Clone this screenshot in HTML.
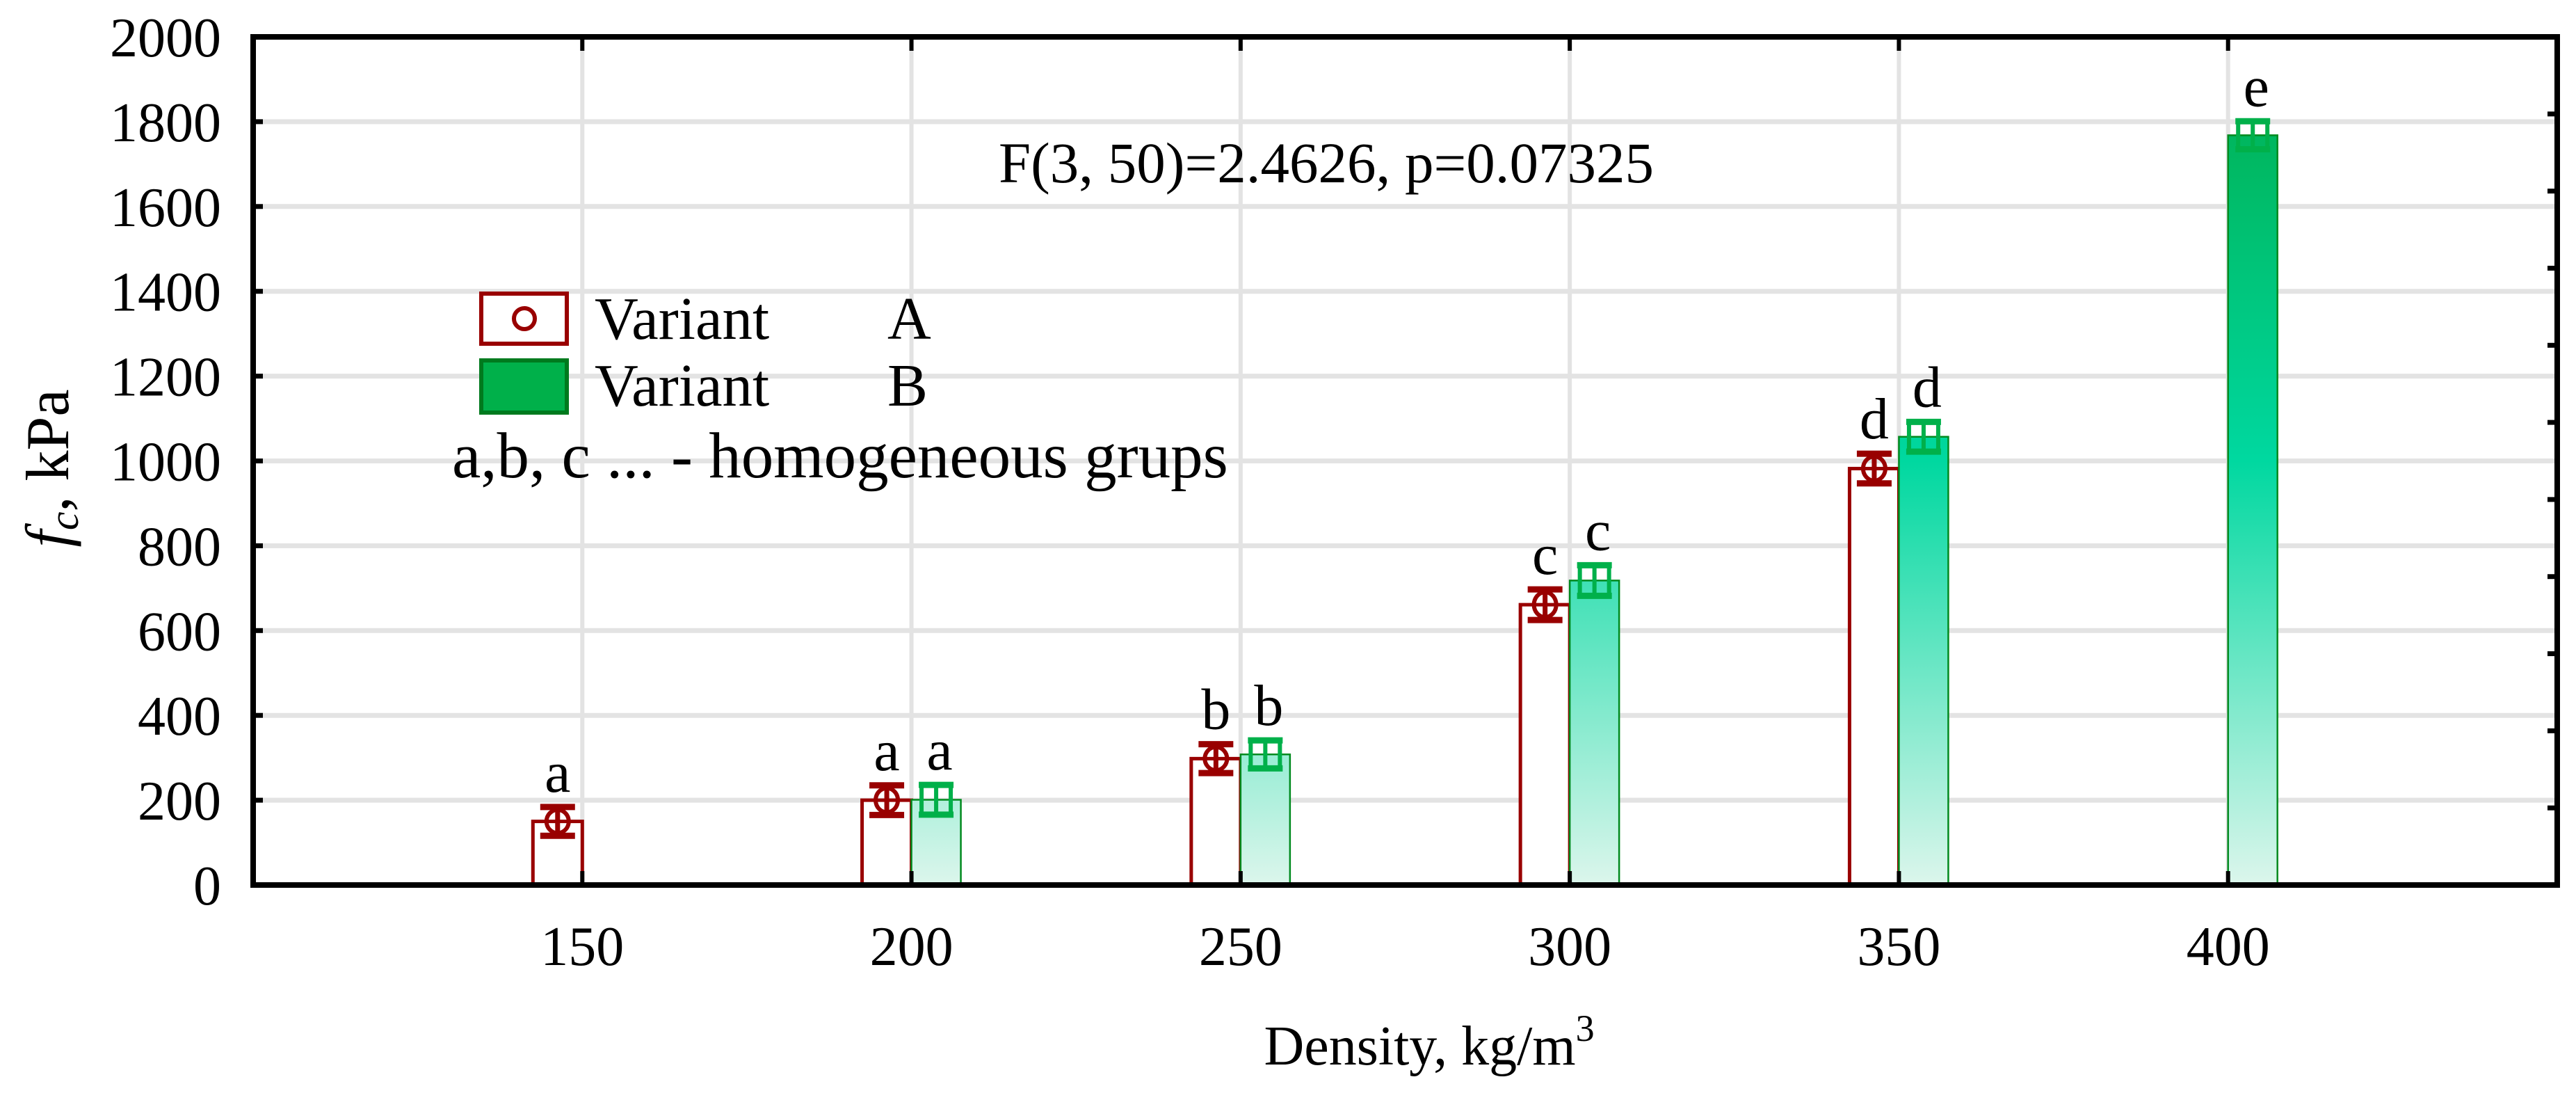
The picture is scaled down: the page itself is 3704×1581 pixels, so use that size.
<!DOCTYPE html>
<html><head><meta charset="utf-8">
<style>
html,body{margin:0;padding:0;background:#fff;}
svg{display:block;font-family:"Liberation Serif",serif;}
</style></head>
<body>
<svg id="chart" width="3704" height="1581" viewBox="0 0 3704 1581" xmlns="http://www.w3.org/2000/svg">
<defs>
<linearGradient id="gB" gradientUnits="userSpaceOnUse" x1="0" y1="53" x2="0" y2="1272">
<stop offset="0" stop-color="#00ac4a"/>
<stop offset="0.5" stop-color="#00d8a0"/>
<stop offset="1" stop-color="#dcf6ec"/>
</linearGradient>
</defs>
<g id="grid"></g>
<g id="bars"></g>
<g id="axes"></g>
<text x="1436" y="262" font-size="83">F(3, 50)=2.4626, p=0.07325</text>
<g>
<rect x="692" y="422" width="123" height="72" fill="#fff" stroke="#990000" stroke-width="6"/>
<circle cx="754" cy="458" r="15" fill="none" stroke="#990000" stroke-width="6"/>
<text x="855" y="487" font-size="87">Variant</text>
<text x="1276" y="487" font-size="87">A</text>
<rect x="692" y="518" width="123" height="75" fill="#00b04a" stroke="#007a1e" stroke-width="6"/>
<text x="855" y="583" font-size="87">Variant</text>
<text x="1276" y="583" font-size="87">B</text>
<text x="650" y="686" font-size="93">a,b, c ... - homogeneous grups</text>
</g>
<text transform="translate(98,673) rotate(-90)" text-anchor="middle" font-size="88"><tspan font-style="italic">f</tspan><tspan font-style="italic" font-size="60" dy="14">c</tspan><tspan dy="-14">, kPa</tspan></text>
<text x="2055" y="1530" text-anchor="middle" font-size="80">Density, kg/m<tspan font-size="54" dy="-34">3</tspan></text>
</svg>
<script>
const categories = [150, 200, 250, 300, 350, 400];
const valuesA = [150, 200, 298, 661, 982, null];
const errA = [34, 35, 34, 36, 35, null];
const lettersA = ["a", "a", "b", "c", "d", null];
const valuesB = [null, 201, 308, 718, 1057, 1768];
const errB = [null, 35, 33, 36, 35, 33];
const lettersB = [null, "a", "b", "c", "d", "e"];
const yTicks = [0, 200, 400, 600, 800, 1000, 1200, 1400, 1600, 1800, 2000];

const NS = "http://www.w3.org/2000/svg";
const L = 364, R = 3677, T = 53, B = 1272;
const xmin = 100, xmax = 450, ymax = 2000;
const xS = v => L + (v - xmin) / (xmax - xmin) * (R - L);
const yS = v => B - v / ymax * (B - T);
const bw = 71;
function mk(parent, tag, attrs) {
  const e = document.createElementNS(NS, tag);
  for (const k in attrs) e.setAttribute(k, attrs[k]);
  parent.appendChild(e);
  return e;
}
const grid = document.getElementById('grid');
const bars = document.getElementById('bars');
const axes = document.getElementById('axes');

yTicks.forEach(t => {
  const g = mk(grid, 'line', {x1: L, x2: R, y1: yS(t), y2: yS(t), stroke: '#e3e3e3', 'stroke-width': 7});
  
  
  const tk = mk(axes, 'line', {x1: L, x2: L + 14, y1: yS(t), y2: yS(t), stroke: '#000', 'stroke-width': 7});
  
  
  const lb = mk(axes, 'text', {x: 318, y: yS(t) + 28, 'text-anchor': 'end', 'font-size': 80});
  lb.textContent = t;
  
  
});
for (let i = 0; i <= 10; i++) {
  const y = B - i * (B - T) / 11;
  const rt = mk(axes, 'line', {x1: R - 14, x2: R, y1: y, y2: y, stroke: '#000', 'stroke-width': 7});
  
  
}
categories.forEach(c => {
  const x = xS(c);
  const g = mk(grid, 'line', {x1: x, x2: x, y1: T, y2: B, stroke: '#e3e3e3', 'stroke-width': 6});
  
  
  const tt = mk(axes, 'line', {x1: x, x2: x, y1: T, y2: T + 20, stroke: '#000', 'stroke-width': 6});
  
  
  const bt = mk(axes, 'line', {x1: x, x2: x, y1: B - 20, y2: B, stroke: '#000', 'stroke-width': 6});
  
  
  const lb = mk(axes, 'text', {x: x, y: 1387, 'text-anchor': 'middle', 'font-size': 80});
  lb.textContent = c;
  
  
});
const frame = mk(axes, 'path', {d: `M${L},${T} L${R},${T} L${R},${B} L${L},${B} Z`, fill: 'none', stroke: '#000', 'stroke-width': 8});



categories.forEach((c, i) => {
  const x = xS(c);
  if (valuesA[i] != null) {
    const v = valuesA[i], y = yS(v);
    const r = mk(bars, 'rect', {x: x - bw, y: y, width: bw, height: B - y, fill: '#fff', stroke: '#990000', 'stroke-width': 5});
    
    
    const cx = x - bw / 2, y1 = yS(v + errA[i]), y2 = yS(v - errA[i]);
    const eg = mk(bars, 'g', {stroke: '#990000', 'stroke-width': 7, fill: 'none'});
    
    
    mk(eg, 'line', {x1: cx, x2: cx, y1: y1, y2: y2});
    mk(eg, 'line', {x1: cx - 25, x2: cx + 25, y1: y1, y2: y1, 'stroke-width': 9});
    mk(eg, 'line', {x1: cx - 25, x2: cx + 25, y1: y2, y2: y2, 'stroke-width': 9});
    mk(eg, 'ellipse', {cx: cx, cy: y, rx: 16, ry: (y2 - y1) / 2 - 4, 'stroke-width': 6});
    const t = mk(bars, 'text', {x: cx, y: y1 - 22, 'text-anchor': 'middle', 'font-size': 84});
    t.textContent = lettersA[i];
    
    
  }
  if (valuesB[i] != null) {
    const v = valuesB[i], y = yS(v);
    const r = mk(bars, 'rect', {x: x, y: y, width: bw, height: B - y, fill: 'url(#gB)', stroke: '#008a1e', 'stroke-width': 2.5});
    
    
    const cx = x + bw / 2, y1 = yS(v + errB[i]), y2 = yS(v - errB[i]);
    const eg = mk(bars, 'g', {stroke: '#00b04a', 'stroke-width': 6, fill: 'none'});
    
    
    mk(eg, 'line', {x1: cx - 25, x2: cx + 25, y1: y1, y2: y1, 'stroke-width': 9});
    mk(eg, 'line', {x1: cx - 25, x2: cx + 25, y1: y2, y2: y2, 'stroke-width': 9});
    mk(eg, 'line', {x1: cx - 21, x2: cx - 21, y1: y1, y2: y2});
    mk(eg, 'line', {x1: cx, x2: cx, y1: y1, y2: y2});
    mk(eg, 'line', {x1: cx + 21, x2: cx + 21, y1: y1, y2: y2});
    const t = mk(bars, 'text', {x: cx + 5, y: y1 - 22, 'text-anchor': 'middle', 'font-size': 84});
    t.textContent = lettersB[i];
    
    
  }
});
</script>
</body></html>
